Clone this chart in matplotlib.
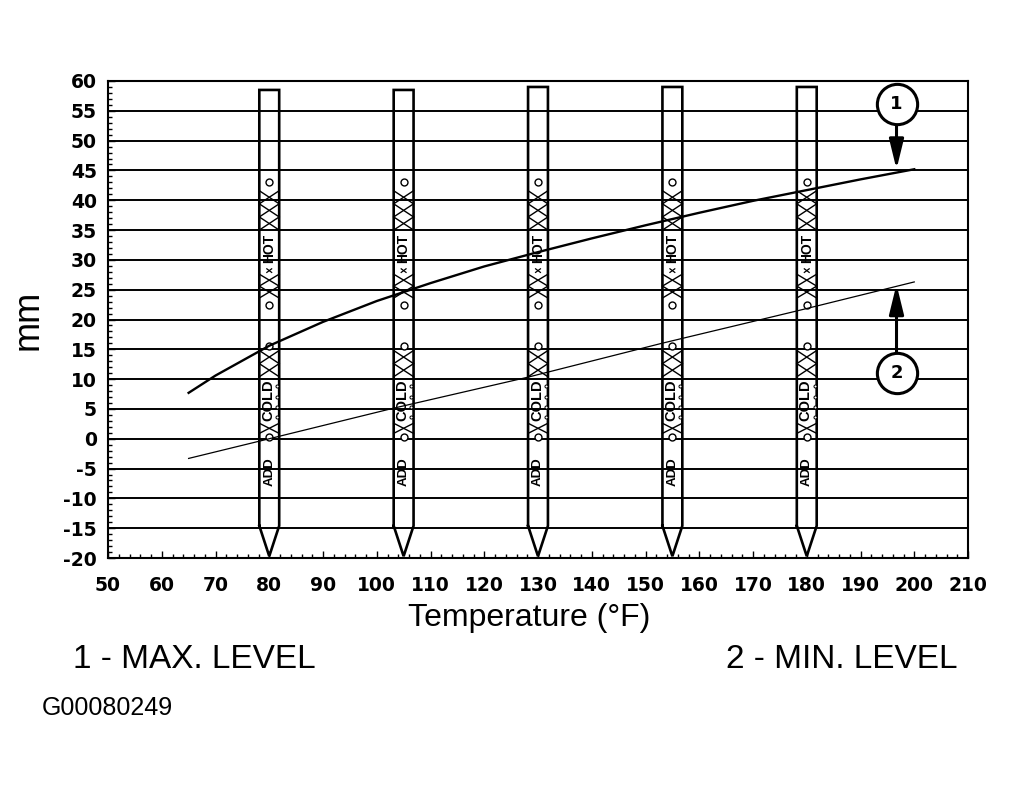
import numpy as np
import matplotlib.pyplot as plt
from matplotlib.ticker import MultipleLocator

plt.rcParams["axes.unicode_minus"] = False

# curve readings (temperature degF -> level mm)
temps_max = [65, 70, 80, 90, 100, 110, 120, 130, 140, 150, 160, 170, 180, 190, 200]
level_max = [7.7, 10.6, 15.6, 19.6, 23.1, 26.1, 28.9, 31.3, 33.6, 35.8, 37.9, 39.9, 41.7, 43.5, 45.2]
temps_min = [65, 80, 103, 128, 153, 178, 200]
level_min = [-3.3, 0.0, 5.1, 10.3, 16.0, 21.4, 26.3]

# dipsticks drawn over the grid
gauge_temps = [80, 105, 130, 155, 180]
gauge_tops = [58.5, 58.5, 59.0, 59.0, 59.0]

x_ticks = list(range(50, 211, 10))
y_ticks = list(range(-20, 61, 5))

callout_labels = ["1", "2"]
legend_left = "1 - MAX. LEVEL"
legend_right = "2 - MIN. LEVEL"
fig_code = "G00080249"

hw = 1.85  # half width of a dipstick in degF
body_bottom = -14.6
tip_y = -19.7

fig = plt.figure(figsize=(10.23, 7.91), dpi=100)
ax = fig.add_axes([108 / 1023, 1 - 558 / 791, 860 / 1023, 477 / 791])
ax.set_xlim(50, 210)
ax.set_ylim(-20, 60)
ax.set_xticks(x_ticks)
ax.set_yticks(y_ticks)
ax.xaxis.set_minor_locator(MultipleLocator(2))
ax.yaxis.set_minor_locator(MultipleLocator(1))
ax.tick_params(which="both", direction="in", width=1)
ax.tick_params(which="major", length=5)
ax.tick_params(which="minor", length=3)
ax.tick_params(axis="y", pad=8)
ax.tick_params(axis="x", pad=13)
for lab in ax.get_xticklabels() + ax.get_yticklabels():
    lab.set_fontfamily("DejaVu Sans")
    lab.set_fontweight("bold")
    lab.set_fontsize(13.5)
for sp in ax.spines.values():
    sp.set_linewidth(1.5)
ax.grid(axis="y", color="black", linewidth=1.4)
ax.set_axisbelow(True)

ax.set_xlabel("Temperature (°F)", fontsize=23, fontfamily="Liberation Sans")
ax.xaxis.set_label_coords((529 - 108) / 860, (558 - 603) / 477)
ax.set_ylabel("mm", fontsize=26, fontfamily="Liberation Sans")
ax.yaxis.set_label_coords(-0.073, 0.5)


def xcells(xc, y0, y1, n):
    h = (y1 - y0) / n
    for i in range(n):
        a = y0 + i * h
        b = a + h
        ax.plot([xc - hw, xc + hw], [a, b], color="black", lw=1.0, zorder=3)
        ax.plot([xc - hw, xc + hw], [b, a], color="black", lw=1.0, zorder=3)


for xc, top in zip(gauge_temps, gauge_tops):
    outline_x = [xc - hw, xc - hw, xc + hw, xc + hw, xc, xc - hw]
    outline_y = [body_bottom, top, top, body_bottom, tip_y, body_bottom]
    ax.plot(outline_x, outline_y, color="black", lw=1.9, zorder=3,
            solid_joinstyle="miter")
    # HOT band
    xcells(xc, 35.0, 41.6, 3)
    xcells(xc, 23.6, 27.6, 2)
    ax.plot([xc - 0.45, xc + 0.45], [27.9, 28.5], color="black", lw=0.9, zorder=3)
    ax.plot([xc - 0.45, xc + 0.45], [28.5, 27.9], color="black", lw=0.9, zorder=3)
    ax.text(xc, 31.9, "HOT", rotation=90, ha="center", va="center",
            fontsize=10, fontweight="bold", fontfamily="Liberation Sans", zorder=3)
    # COLD band
    xcells(xc, 10.4, 14.8, 2)
    xcells(xc, 0.9, 2.6, 1)
    ax.text(xc - 0.2, 6.4, "COLD", rotation=90, ha="center", va="center",
            fontsize=10.5, fontweight="bold", fontfamily="Liberation Sans", zorder=3)
    ax.plot([xc + 1.45] * 4, np.linspace(3.6, 8.8, 4), "o", ms=2.2, mfc="white",
            mec="black", mew=0.7, zorder=3)
    ax.text(xc, -5.6, "ADD", rotation=90, ha="center", va="center",
            fontsize=9.5, fontweight="bold", fontfamily="Liberation Sans", zorder=3)
    # little circles
    ax.plot([xc] * 4, [43.0, 22.4, 15.6, 0.3], "o", ms=5, mfc="white",
            mec="black", mew=1.0, zorder=3)

ax.plot(temps_max, level_max, color="black", lw=1.7, zorder=4)
ax.plot(temps_min, level_min, color="black", lw=0.9, zorder=4)

# callouts
cx = 196.7
r = 20 / 5.95  # circle radius in mm units
callout_y = [56.1, 11.1]
tips = [45.2, 25.9]
for lab, cy, tip in zip(callout_labels, callout_y, tips):
    start = cy - r if tip < cy else cy + r
    ax.annotate("", xy=(cx, tip), xytext=(cx, start),
                arrowprops=dict(arrowstyle="-|>,head_length=0.45,head_width=0.11",
                                mutation_scale=40, lw=2.2, color="black",
                                shrinkA=0, shrinkB=0), zorder=5)
    ax.plot([cx], [cy], "o", ms=29, mfc="white", mec="black", mew=2.2,
            zorder=6, clip_on=False)
    ax.text(cx, cy, lab, ha="center", va="center", fontsize=13,
            fontweight="bold", fontfamily="DejaVu Sans", zorder=7)

fig.text(73 / 1023, 1 - 659 / 791, legend_left, ha="left", va="center",
         fontsize=24, fontfamily="Liberation Sans")
fig.text(957 / 1023, 1 - 659 / 791, legend_right, ha="right", va="center",
         fontsize=24, fontfamily="Liberation Sans")
fig.text(42 / 1023, 1 - 708 / 791, fig_code, ha="left", va="center",
         fontsize=18, fontfamily="Liberation Sans")

fig.savefig("out.png", dpi=100)
